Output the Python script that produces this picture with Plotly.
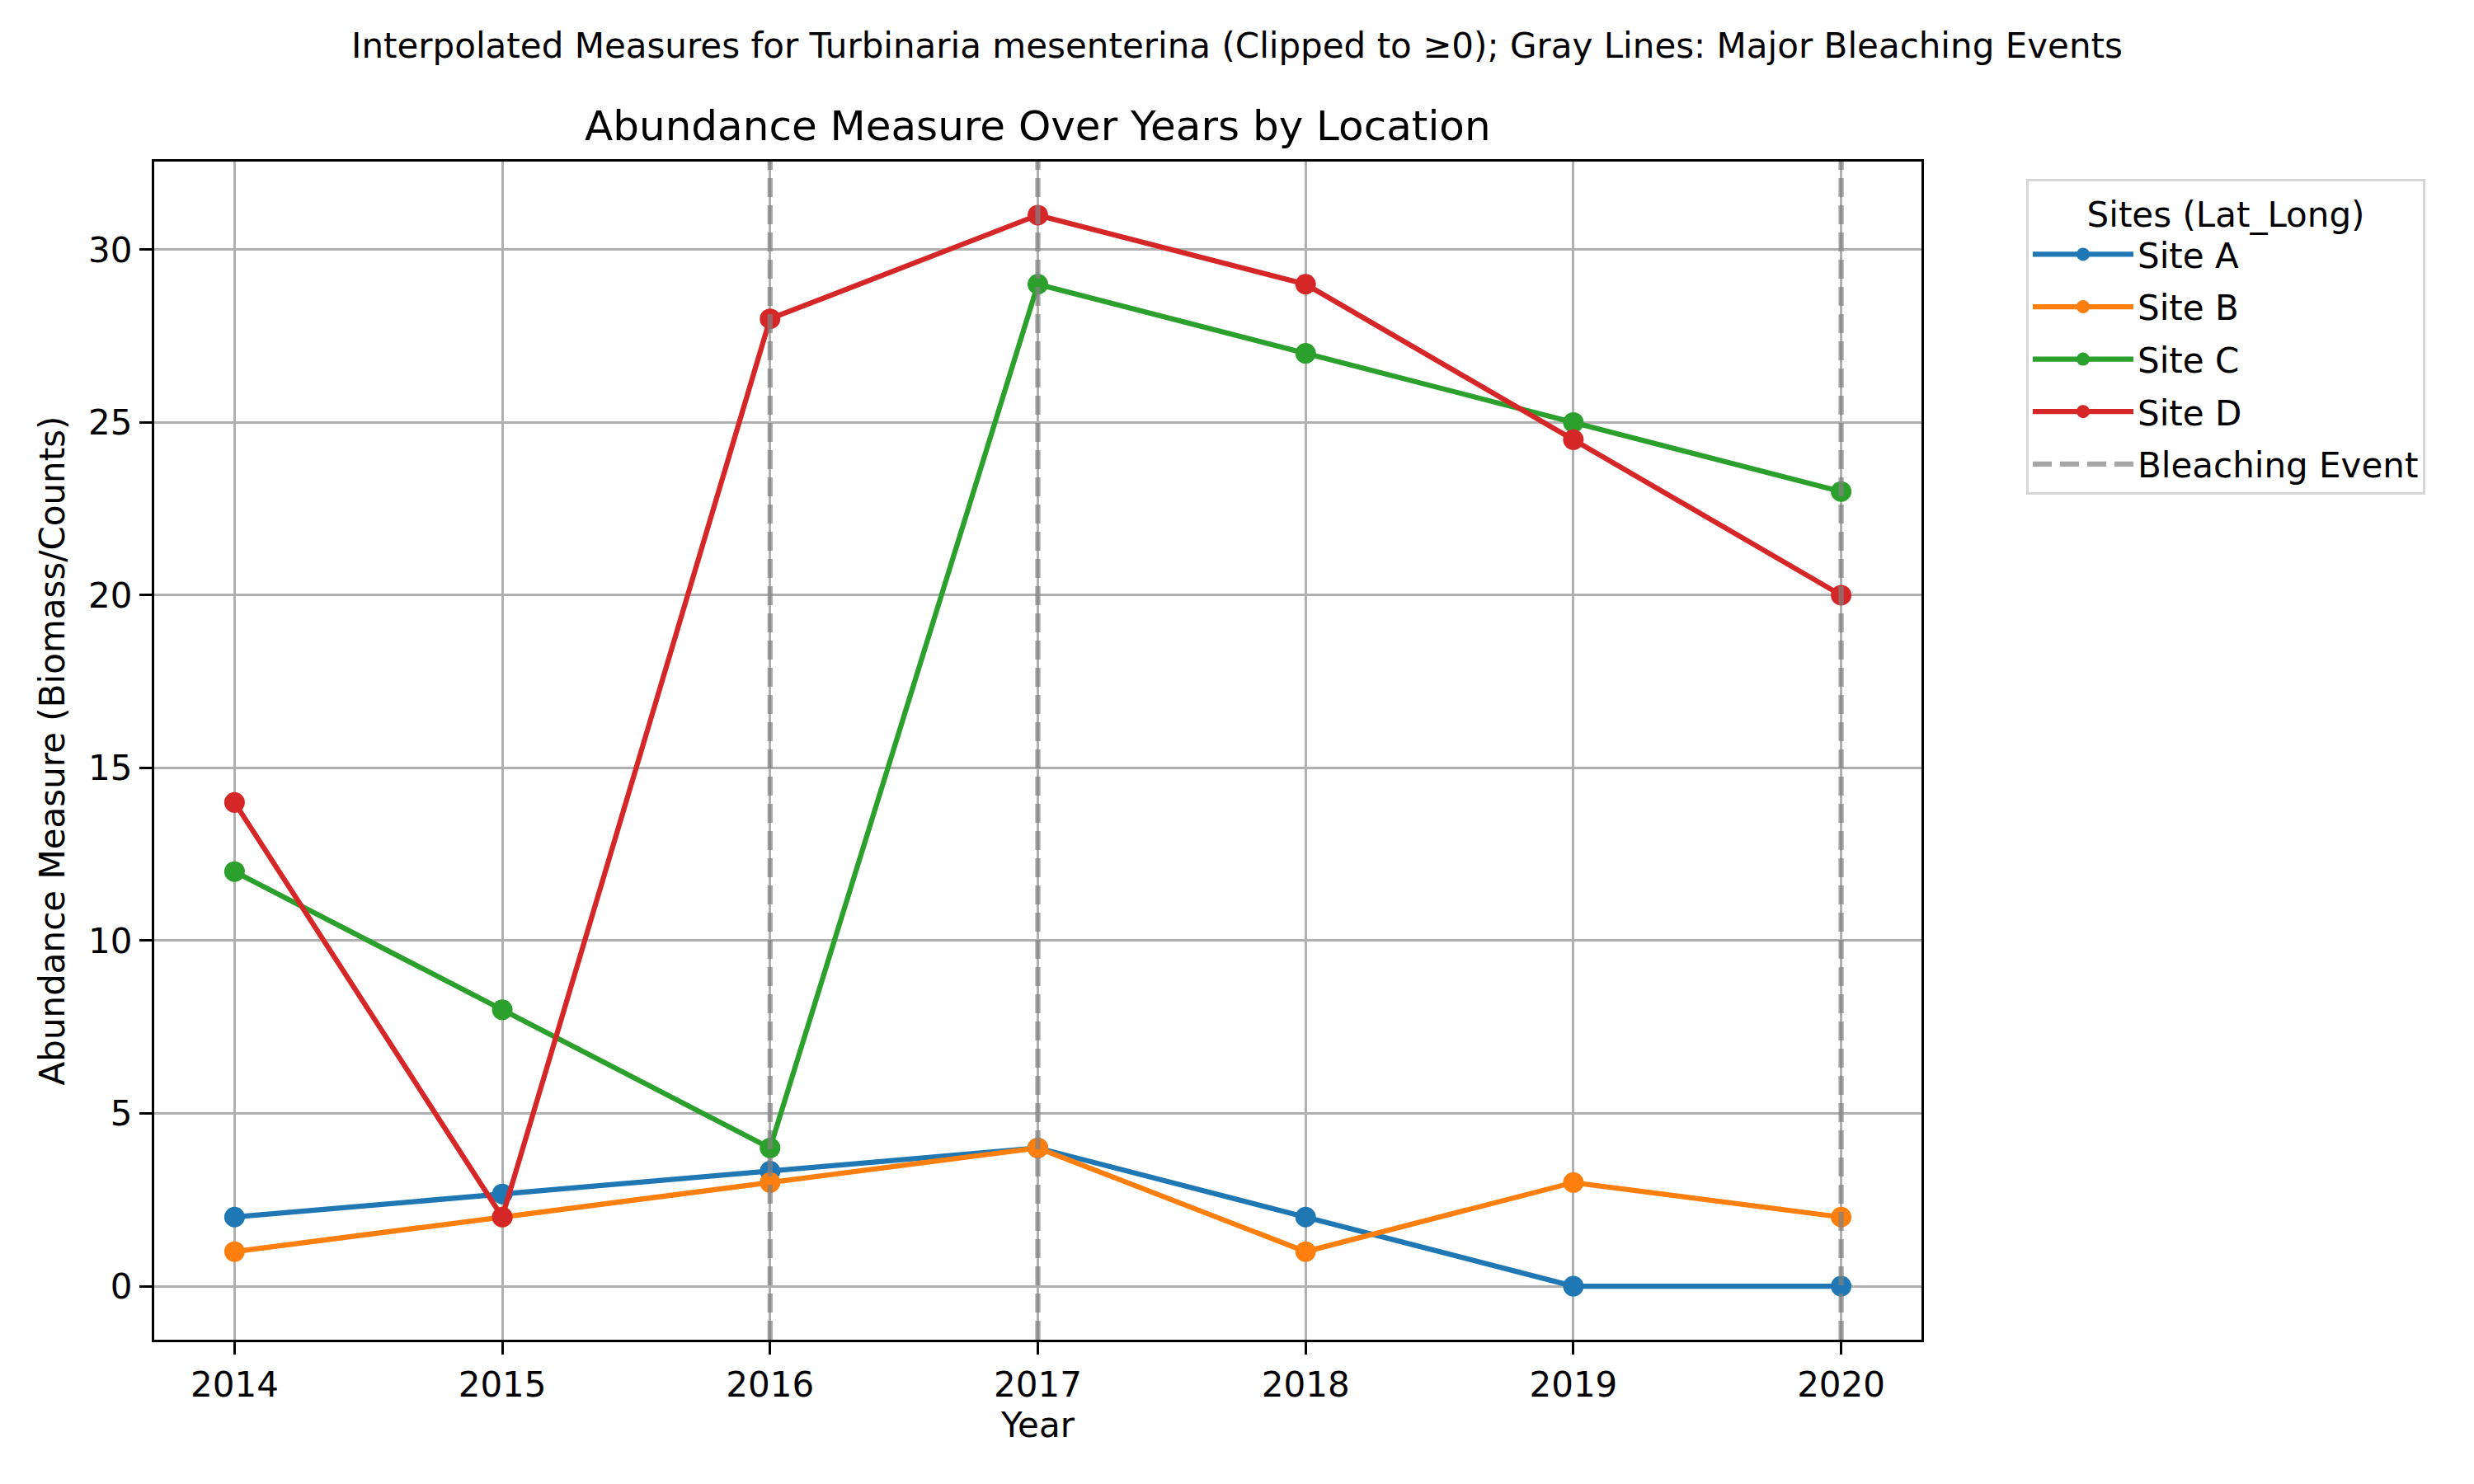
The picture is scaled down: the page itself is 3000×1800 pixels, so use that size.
import plotly.graph_objects as go

years = [2014, 2015, 2016, 2017, 2018, 2019, 2020]
site_names = ["Site A", "Site B", "Site C", "Site D"]
site_a = [2, 2.67, 3.33, 4, 2, 0, 0]
site_b = [1, 2, 3, 4, 1, 3, 2]
site_c = [12, 8, 4, 29, 27, 25, 23]
site_d = [14, 2, 28, 31, 29, 24.5, 20]
bleaching_years = [2016, 2017, 2020]
colors = ["#1f77b4", "#ff7f0e", "#2ca02c", "#d62728"]

FONT = "DejaVu Sans"
W, H = 3000, 1800
OFF = 8  # page body margin
L = 187 - OFF
T = 196 - OFF
PW = 2330 - 187
PH = 1625 - 196
R = W - L - PW
B = H - T - PH


def py(ypx):
    return (T + PH - (ypx - OFF)) / PH


def px(xpx):
    return (xpx - OFF - L) / PW


fig = go.Figure()
for name, vals, col in zip(site_names, [site_a, site_b, site_c, site_d], colors):
    fig.add_trace(go.Scatter(
        x=years, y=vals, name=name, mode="lines+markers", legendgroup=name,
        line=dict(color=col, width=6.25),
        marker=dict(color=col, size=25, line=dict(width=0)),
    ))

GRAY = "rgba(128,128,128,0.7)"
fig.add_trace(go.Scatter(
    x=[None], y=[None], name="Bleaching Event", mode="lines", legendgroup="bleach",
    line=dict(color=GRAY, width=6.25, dash="23px,10px"),
))

for yr in bleaching_years:
    fig.add_shape(type="line", x0=yr, x1=yr, xref="x", y0=0, y1=1, yref="y domain",
                  line=dict(color=GRAY, width=6.25, dash="23px,10px"),
                  layer="above")

axis_common = dict(
    showline=True, linecolor="black", linewidth=3.3, mirror=True,
    ticks="outside", ticklen=15, tickwidth=3.3, tickcolor="black",
    showgrid=True, gridcolor="#b0b0b0", gridwidth=3.3,
    zeroline=False,
    tickfont=dict(family=FONT, size=42, color="black"),
)

fig.update_xaxes(range=[2013.7, 2020.3], tickvals=years, ticktext=[str(y) for y in years],
                 title=dict(text="Year", font=dict(family=FONT, size=42, color="black"), standoff=10),
                 **axis_common)
fig.update_yaxes(range=[-1.55, 32.55], tickvals=[0, 5, 10, 15, 20, 25, 30],
                 title=dict(text="Abundance Measure (Biomass/Counts)", font=dict(family=FONT, size=42, color="black"), standoff=16),
                 **axis_common)

fig.update_layout(
    width=W, height=H,
    margin=dict(l=L, r=R, t=T, b=B, autoexpand=False),
    plot_bgcolor="white", paper_bgcolor="white",
    font=dict(family=FONT, size=42, color="black"),
    showlegend=True,
    legend=dict(
        x=px(2457), y=py(217), xanchor="left", yanchor="top",
        bgcolor="white", bordercolor="#d6d6d6", borderwidth=3,
        title=dict(text="Sites (Lat_Long)", side="top center", font=dict(family=FONT, size=42)),
        font=dict(family=FONT, size=42, color="black"),
        itemwidth=122, tracegroupgap=6,
    ),
    annotations=[
        dict(text="Interpolated Measures for Turbinaria mesenterina (Clipped to ≥0); Gray Lines: Major Bleaching Events",
             x=px(1500), y=py(55), xref="paper", yref="paper", showarrow=False,
             font=dict(family=FONT, size=42, color="black"), xanchor="center", yanchor="middle"),
        dict(text="Abundance Measure Over Years by Location",
             x=0.5, xref="paper", y=py(153), yref="paper", showarrow=False,
             font=dict(family=FONT, size=50, color="black"), xanchor="center", yanchor="middle"),
    ],
)

fig.write_html("out.html")
